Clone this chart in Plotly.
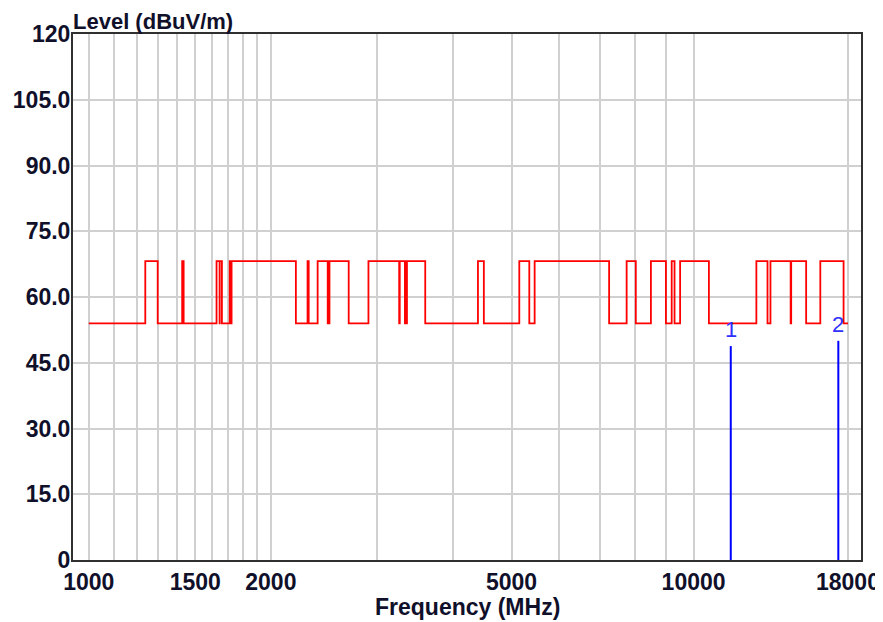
import math
import plotly.graph_objects as go

# Limit line: band edges (MHz) and level of each segment between consecutive edges
limit_edges_mhz = [1000, 1240, 1300, 1427, 1435, 1626.5, 1645.5, 1646.5, 1660, 1710,
                   1718.8, 1722.2, 2200, 2300, 2310, 2390, 2483.5, 2500, 2690, 2900,
                   3260, 3267, 3332, 3339, 3345.8, 3358, 3600, 4400, 4500, 5150,
                   5350, 5460, 7250, 7750, 8025, 8500, 9000, 9200, 9300, 9500,
                   10600, 12700, 13250, 13400, 14470, 14500, 15350, 16200, 17700, 18000]
level_low = 54.0
level_high = 68.2
segment_is_high = [i % 2 == 1 for i in range(len(limit_edges_mhz) - 1)]

# Markers
marker_labels = ["1", "2"]
marker_freq_mhz = [11520, 17350]
marker_level = [48.8, 50.0]

# Axis ticks
x_grid_vals = [1000, 1100, 1200, 1300, 1400, 1500, 1600, 1700, 1800, 1900, 2000,
               3000, 4000, 5000, 6000, 7000, 8000, 9000, 10000, 18000]
x_label_vals = [1000, 1500, 2000, 5000, 10000, 18000]
y_tick_vals = [0, 15, 30, 45, 60, 75, 90, 105, 120]
y_tick_text = ["0", "15.0", "30.0", "45.0", "60.0", "75.0", "90.0", "105.0", "120"]

# build step line
lx, ly = [], []
for i, hi in enumerate(segment_is_high):
    lvl = level_high if hi else level_low
    lx += [limit_edges_mhz[i], limit_edges_mhz[i + 1]]
    ly += [lvl, lvl]

fig = go.Figure()
fig.add_trace(go.Scatter(x=lx, y=ly, mode="lines",
                         line=dict(color="#ff0000", width=1.8), hoverinfo="skip"))
for f, lv in zip(marker_freq_mhz, marker_level):
    fig.add_trace(go.Scatter(x=[f, f], y=[0, lv], mode="lines",
                             line=dict(color="#0000ff", width=2), hoverinfo="skip"))

FONT = "Liberation Sans, Arial, sans-serif"
TXT = "#10102a"

for lab, f, lv in zip(marker_labels, marker_freq_mhz, marker_level):
    fig.add_annotation(x=math.log10(f), y=lv, text=lab, showarrow=False,
                       xanchor="center", yanchor="bottom", yshift=2,
                       font=dict(family=FONT, size=22, color="#3030ff"))

fig.add_annotation(xref="paper", yref="paper", x=0, y=1, xanchor="left", yanchor="bottom",
                   text="Level (dBuV/m)", showarrow=False, yshift=-2, xshift=-2,
                   font=dict(family=FONT, size=22, color=TXT, weight="bold"))
fig.add_annotation(xref="paper", yref="paper", x=0.5, y=0, xanchor="center", yanchor="top",
                   text="Frequency (MHz)", showarrow=False, yshift=-32,
                   font=dict(family=FONT, size=23, color=TXT, weight="bold"))

fig.update_xaxes(type="log", range=[2.9739, 4.2768], automargin=False,
                 tickvals=x_grid_vals,
                 ticktext=[str(v) if v in x_label_vals else "" for v in x_grid_vals],
                 showgrid=True, gridcolor="#d0d0d0", gridwidth=2,
                 showline=True, linecolor="#303030", linewidth=2, mirror=True,
                 ticks="", zeroline=False,
                 tickfont=dict(family=FONT, size=23, color=TXT, weight="bold"))
fig.update_yaxes(range=[0, 120], tickvals=y_tick_vals, ticktext=y_tick_text, automargin=False,
                 showgrid=True, gridcolor="#d0d0d0", gridwidth=2,
                 showline=True, linecolor="#303030", linewidth=2, mirror=True,
                 ticks="", zeroline=False, ticklabelstandoff=-4,
                 tickfont=dict(family=FONT, size=23, color=TXT, weight="bold"))

# page body has an 8px margin; figure sized/margined so the plot frame lands at x 73-861, y 34-560
fig.update_layout(width=875, height=614, showlegend=False,
                  margin=dict(l=65, r=22, t=26, b=62),
                  paper_bgcolor="white", plot_bgcolor="white")

fig.write_html("out.html")
